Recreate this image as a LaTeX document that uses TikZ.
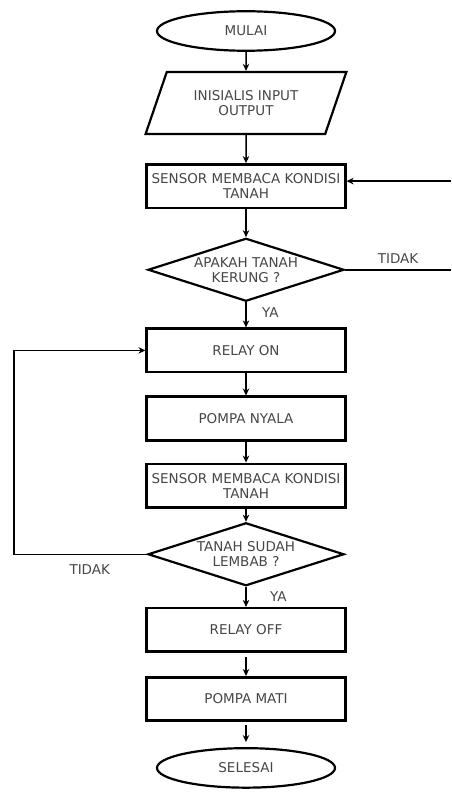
\documentclass[tikz,border=0pt]{standalone}
\usepackage{fontspec}
\setmainfont{DejaVu Sans}
\usepackage{xcolor}
\usepackage{tikz}
\usetikzlibrary{shapes.geometric, arrows.meta, positioning}
\definecolor{textgray}{RGB}{70, 70, 70}
\tikzstyle{terminal} = [ellipse, draw, line width=2.2pt, minimum width=178pt, minimum height=39.5pt, inner sep=0pt]
\tikzstyle{io} = [trapezium, trapezium left angle=61, trapezium right angle=119, trapezium stretches, draw, line width=2.2pt, minimum width=201pt, minimum height=62pt, inner sep=0pt, align=center]
\tikzstyle{process} = [rectangle, draw, line width=2.6pt, minimum width=198.5pt, minimum height=43.5pt, inner sep=0pt, align=center]
\tikzstyle{decision} = [diamond, aspect=3, draw, line width=2.2pt, minimum width=196pt, minimum height=63pt, inner sep=0pt, align=center]
\tikzstyle{line} = [draw, -{Stealth[length=7pt, width=6.5pt]}, line width=1.5pt]
\tikzstyle{plain} = [draw, line width=1.5pt]

\begin{document}
\begin{tikzpicture}[x=1pt, y=-1pt, font=\fontsize{13.5}{15}\selectfont, text=textgray]
    \useasboundingbox (0,0) rectangle (451,792);

    \node (mulai) [terminal] at (246,31) {MULAI};
    \node (init) [io, below=19pt of mulai] {INISIALIS INPUT\\OUTPUT};
    \node (baca1) [process, below=28pt of init] {SENSOR MEMBACA KONDISI\\TANAH};
    \node (kering) [decision, below=28pt of baca1] {APAKAH TANAH\\KERUNG ?};
    \node (relayon) [process, below=25pt of kering] {RELAY ON};
    \node (nyala) [process, below=22pt of relayon] {POMPA NYALA};
    \node (baca2) [process, below=21pt of nyala] {SENSOR MEMBACA KONDISI\\TANAH};
    \node (lembab) [decision, below=13pt of baca2] {TANAH SUDAH\\LEMBAB ?};
    \node (relayoff) [process, below=20pt of lembab] {RELAY OFF};
    \node (mati) [process, below=23pt of relayoff] {POMPA MATI};
    \node (selesai) [terminal, below=25pt of mati] {SELESAI};

    \coordinate (redge) at (451,0);
    \coordinate (lback) at (14,0);
    \coordinate (bacain) at ([yshift=5pt]baca1.east);

    \draw [line] (mulai) -- (init);
    \draw [line] (init) -- (baca1);
    \draw [line] (baca1) -- (kering);
    \draw [line] (kering) -- node[right=12pt, pos=0.4] {YA} (relayon);
    \draw [line] (relayon) -- (nyala);
    \draw [line] (nyala) -- (baca2);
    \draw [line] (baca2) -- (lembab);
    \draw [line] (lembab) -- node[right=20pt, pos=0.5] {YA} (relayoff);
    \draw [line, shorten <=4pt] (relayoff) -- (mati);
    \draw [line, shorten <=3pt, shorten >=5pt] (mati) -- (selesai);

    \draw [plain] (kering.east) -- node[above=2pt] {TIDAK} (kering.east -| redge);
    \draw [line] (bacain -| redge) -- (bacain);
    \draw [line] (lembab.west) -- node[below=6pt, pos=0.43] {TIDAK} (lembab.west -| lback) |- (relayon.west);
\end{tikzpicture}
\end{document}
